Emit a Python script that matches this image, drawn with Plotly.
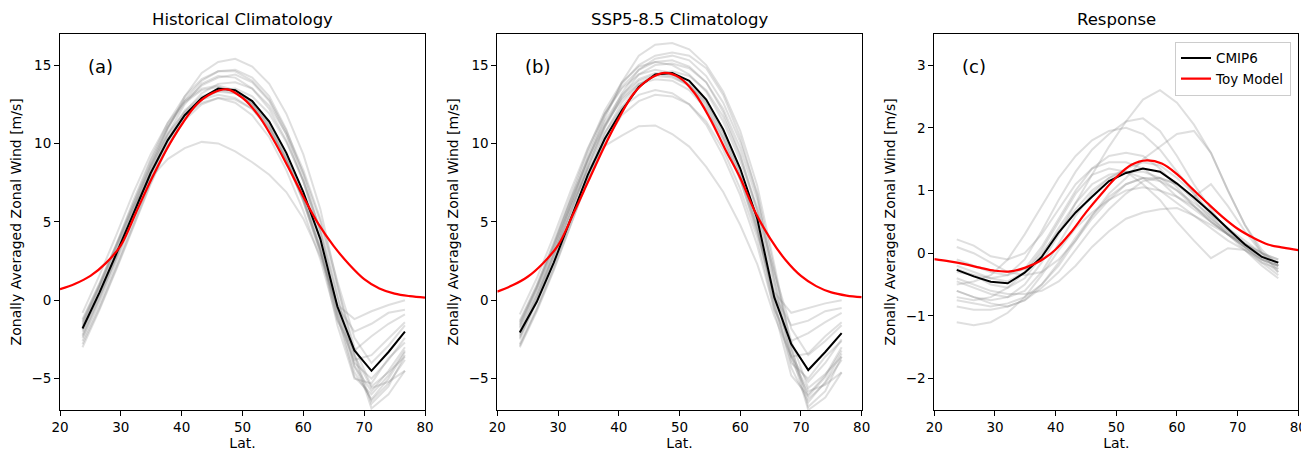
import plotly.graph_objects as go
from plotly.subplots import make_subplots

# T42 grid latitudes used by the CMIP6 curves
lat = [23.7, 26.5, 29.3, 32.1, 34.9, 37.7, 40.5, 43.3, 46.0, 48.8,
       51.6, 54.4, 57.2, 60.0, 62.8, 65.6, 68.4, 71.2, 74.0, 76.7]

# latitudes where the toy model curve was read
toy_lat = [20, 22.5, 25, 27.5, 30, 32.5, 35, 37.5, 40, 42.5, 45, 47.5, 50,
           52.5, 55, 57.5, 60, 62.5, 65, 67.5, 70, 72.5, 75, 77.5, 80]

hist_cmip6 = [-1.8, 0.5, 3.0, 5.6, 8.1, 10.2, 11.8, 12.9, 13.5, 13.4,
              12.7, 11.4, 9.4, 6.9, 3.9, -0.4, -3.2, -4.5, -3.3, -2.0]
ssp_cmip6 = [-2.06, -0.1, 2.4, 5.2, 8.0, 10.3, 12.1, 13.6, 14.4, 14.5,
             14.0, 12.8, 10.9, 8.4, 5.2, 0.2, -2.8, -4.45, -3.3, -2.1]
resp_cmip6 = [-0.265, -0.37, -0.455, -0.48, -0.31, -0.06, 0.33, 0.65, 0.9, 1.15,
              1.28, 1.35, 1.3, 1.11, 0.89, 0.65, 0.39, 0.14, -0.06, -0.15]

hist_toy = [0.70, 1.05, 1.55, 2.35, 3.5, 5.6, 7.7, 9.6, 11.2, 12.5, 13.2, 13.45, 12.9,
            11.85, 10.3, 8.5, 6.6, 4.85, 3.45, 2.3, 1.35, 0.75, 0.42, 0.26, 0.17]
ssp_toy = [0.55, 0.95, 1.5, 2.35, 3.5, 5.5, 7.6, 9.7, 11.6, 13.2, 14.1, 14.5, 14.2,
           13.2, 11.6, 9.65, 7.8, 5.6, 3.9, 2.55, 1.55, 0.9, 0.5, 0.3, 0.2]
resp_toy = [-0.095, -0.13, -0.175, -0.23, -0.28, -0.29, -0.23, -0.12, 0.06, 0.33, 0.65,
            0.94, 1.21, 1.41, 1.48, 1.43, 1.26, 1.03, 0.80, 0.58, 0.39, 0.25, 0.14, 0.09, 0.05]

hist_models = [
    [-2.3, 0.1, 2.8, 5.6, 8.4, 10.9, 13.0, 14.5, 15.2, 15.4, 14.9, 13.8, 11.9, 9.3, 5.8, 1.0, -3.4, -6.6, -5.5, -3.5],
    [-2.0, 0.4, 3.0, 5.8, 8.6, 11.0, 12.8, 14.0, 14.6, 14.7, 14.2, 13.0, 10.9, 8.0, 4.3, -0.5, -4.2, -5.8, -4.5, -3.0],
    [-1.5, 0.9, 3.5, 6.2, 8.9, 11.1, 12.7, 13.7, 14.2, 14.4, 13.9, 12.7, 10.6, 7.6, 3.8, -0.8, -4.0, -5.0, -3.8, -2.4],
    [-2.6, -0.3, 2.3, 5.0, 7.7, 10.0, 11.8, 12.9, 13.3, 13.2, 12.6, 11.3, 9.3, 6.7, 3.4, -0.9, -4.6, -6.3, -5.0, -3.3],
    [-1.2, 1.1, 3.6, 6.2, 8.6, 10.6, 12.0, 12.8, 13.1, 12.9, 12.2, 10.9, 8.9, 6.3, 3.1, -0.4, -2.0, -1.5, -0.8, -0.6],
    [-0.8, 1.6, 4.2, 6.9, 9.3, 11.3, 12.7, 13.5, 13.7, 13.4, 12.5, 11.0, 8.9, 6.3, 3.0, -0.3, -1.2, -0.7, -0.3, 0.0],
    [-3.0, -0.6, 2.0, 4.7, 7.4, 9.8, 11.6, 12.8, 13.4, 13.5, 13.0, 11.9, 10.1, 7.6, 4.5, 0.3, -3.6, -6.9, -6.0, -4.5],
    [-1.7, 0.7, 3.2, 5.9, 8.4, 10.5, 12.1, 13.0, 13.4, 13.2, 12.5, 11.2, 9.1, 6.5, 3.2, -1.2, -3.8, -3.5, -2.4, -1.4],
    [-1.3, 1.0, 3.5, 6.0, 7.8, 9.0, 9.7, 10.1, 10.0, 9.5, 8.8, 8.0, 6.9, 5.2, 2.8, -0.5, -3.5, -5.6, -5.2, -4.5],
    [-2.2, 0.2, 2.7, 5.3, 7.9, 10.2, 12.0, 13.2, 13.8, 13.9, 13.5, 12.4, 10.6, 8.1, 5.0, 0.8, -3.0, -5.5, -4.6, -3.6],
    [-1.4, 1.0, 3.6, 6.4, 9.0, 11.3, 13.0, 14.1, 14.6, 14.6, 14.0, 12.8, 10.8, 8.3, 5.2, 1.2, -2.4, -4.0, -2.9, -1.6],
    [-2.8, -0.5, 2.1, 4.8, 7.5, 9.8, 11.5, 12.5, 12.9, 12.8, 12.2, 11.0, 9.0, 6.5, 3.3, -1.0, -4.9, -6.0, -4.8, -3.2],
    [-1.9, 0.4, 2.9, 5.5, 8.1, 10.3, 11.8, 12.6, 12.9, 12.6, 11.8, 10.4, 8.3, 5.7, 2.6, -1.3, -3.2, -2.3, -1.5, -0.9],
    [-2.4, 0.0, 2.6, 5.4, 8.2, 10.6, 12.5, 13.8, 14.3, 14.2, 13.5, 12.2, 10.2, 7.6, 4.4, 0.2, -4.2, -6.4, -5.3, -3.8],
    [-1.6, 0.8, 3.3, 6.0, 8.7, 11.0, 12.6, 13.4, 13.6, 13.3, 12.5, 11.1, 9.0, 6.4, 3.2, -1.6, -5.0, -5.3, -3.7, -2.7],
]

ssp_models = [
    [-2.4, 0.0, 2.9, 5.9, 8.9, 11.6, 13.9, 15.6, 16.3, 16.4, 16.0, 15.0, 13.3, 10.8, 7.3, 2.3, -2.9, -6.8, -5.8, -3.6],
    [-2.2, 0.3, 3.1, 6.1, 9.1, 11.8, 13.8, 15.0, 15.6, 15.8, 15.6, 14.8, 13.1, 10.4, 6.7, 1.2, -3.8, -6.0, -4.8, -3.0],
    [-1.6, 0.8, 3.5, 6.5, 9.4, 11.9, 13.6, 14.7, 15.2, 15.3, 14.9, 13.9, 12.0, 9.3, 5.6, 0.6, -3.6, -5.2, -4.0, -2.5],
    [-2.8, -0.5, 2.2, 5.1, 8.0, 10.6, 12.6, 13.8, 14.3, 14.2, 13.7, 12.6, 10.7, 8.1, 4.8, 0.0, -4.3, -6.5, -5.2, -3.4],
    [-1.3, 1.0, 3.6, 6.4, 9.0, 11.2, 12.8, 13.8, 14.1, 14.0, 13.4, 12.2, 10.3, 7.7, 4.4, 0.3, -1.6, -1.3, -0.7, -0.5],
    [-0.9, 1.4, 4.1, 7.0, 9.7, 11.9, 13.5, 14.4, 14.7, 14.5, 13.7, 12.3, 10.3, 7.7, 4.3, 0.5, -0.8, -0.5, -0.2, 0.0],
    [-3.0, -0.7, 1.9, 4.8, 7.7, 10.3, 12.3, 13.7, 14.4, 14.6, 14.3, 13.4, 11.7, 9.2, 5.9, 1.2, -3.3, -7.0, -6.2, -4.6],
    [-1.8, 0.5, 3.1, 6.1, 8.8, 11.1, 12.9, 14.0, 14.4, 14.3, 13.7, 12.5, 10.5, 7.9, 4.6, -0.4, -3.6, -3.4, -2.3, -1.4],
    [-1.4, 0.8, 3.4, 6.0, 8.3, 9.85, 10.5, 11.1, 11.15, 10.6, 9.8, 8.5, 6.9, 4.8, 2.3, -1.0, -3.6, -5.8, -5.4, -4.6],
    [-2.3, 0.1, 2.8, 5.6, 8.5, 11.0, 13.0, 14.4, 15.0, 15.1, 14.8, 13.9, 12.2, 9.7, 6.4, 1.6, -2.6, -5.6, -4.7, -3.6],
    [-1.5, 0.9, 3.7, 6.7, 9.6, 12.1, 13.9, 14.9, 15.2, 15.0, 14.4, 13.3, 11.4, 8.9, 5.8, 1.8, -1.8, -3.5, -2.6, -1.6],
    [-2.9, -0.6, 2.0, 4.9, 7.7, 10.1, 11.8, 12.7, 13.1, 13.0, 12.5, 11.4, 9.6, 7.1, 4.0, -0.6, -4.8, -6.1, -4.9, -3.2],
    [-2.0, 0.3, 2.9, 5.7, 8.4, 10.7, 12.3, 13.1, 13.4, 13.2, 12.5, 11.2, 9.2, 6.7, 3.5, -0.6, -2.6, -2.1, -1.4, -0.8],
    [-2.5, -0.1, 2.6, 5.5, 8.5, 11.1, 13.2, 14.7, 15.4, 15.6, 15.3, 14.3, 12.6, 10.1, 6.8, 2.0, -3.1, -6.3, -5.3, -3.8],
    [-1.7, 0.7, 3.4, 6.3, 9.0, 11.4, 13.1, 14.1, 14.5, 14.4, 13.8, 12.7, 10.8, 8.1, 4.7, -0.2, -4.0, -5.0, -3.6, -2.6],
]

resp_models = [
    [-0.6, -0.7, -0.75, -0.7, -0.5, -0.15, 0.3, 0.8, 1.25, 1.7, 2.1, 2.45, 2.6, 2.4, 2.05, 1.6, 1.0, 0.45, 0.0, -0.2],
    [-0.3, -0.35, -0.4, -0.35, -0.1, 0.35, 0.85, 1.3, 1.65, 1.9, 2.1, 2.15, 1.95, 1.55, 1.1, 0.7, 0.35, 0.1, -0.1, -0.2],
    [-0.5, -0.45, -0.35, -0.1, 0.3, 0.75, 1.2, 1.55, 1.8, 1.95, 2.0, 1.9, 1.65, 1.3, 0.95, 0.6, 0.3, 0.05, -0.15, -0.25],
    [-0.75, -0.8, -0.85, -0.8, -0.7, -0.5, -0.2, 0.2, 0.6, 0.95, 1.2, 1.5, 1.7, 1.9, 1.95, 1.6, 1.0, 0.45, 0.05, -0.2],
    [-1.1, -1.15, -1.1, -0.95, -0.7, -0.35, 0.05, 0.4, 0.65, 0.85, 1.0, 1.05, 1.0, 0.9, 0.75, 0.55, 0.35, 0.15, -0.05, -0.15],
    [0.22, 0.12, -0.05, -0.1, 0.0, 0.3, 0.7, 1.1, 1.35, 1.45, 1.45, 1.35, 1.15, 0.9, 0.7, 0.5, 0.3, 0.1, -0.1, -0.2],
    [-0.4, -0.5, -0.6, -0.65, -0.65, -0.6, -0.45, -0.2, 0.1, 0.35, 0.55, 0.65, 0.7, 0.72, 0.6, 0.45, 0.3, 0.15, 0.0, -0.1],
    [-0.2, -0.3, -0.4, -0.45, -0.3, 0.05, 0.5, 0.95, 1.25, 1.35, 1.3, 1.1, 0.85, 0.5, 0.2, -0.08, 0.08, 0.05, -0.1, -0.2],
    [-0.6, -0.7, -0.8, -0.85, -0.75, -0.5, -0.15, 0.25, 0.6, 0.9, 1.1, 1.2, 1.2, 1.1, 0.9, 1.1, 0.75, 0.35, 0.0, -0.3],
    [-0.1, -0.2, -0.3, -0.35, -0.25, 0.1, 0.55, 1.0, 1.35, 1.55, 1.6, 1.55, 1.35, 1.05, 0.75, 0.5, 0.3, 0.15, 0.0, -0.1],
    [-0.85, -0.9, -0.9, -0.85, -0.75, -0.55, -0.3, 0.05, 0.4, 0.7, 0.95, 1.15, 1.2, 1.1, 0.85, 0.55, 0.3, 0.1, -0.15, -0.35],
    [-0.25, -0.35, -0.5, -0.55, -0.4, -0.05, 0.4, 0.8, 1.1, 1.25, 1.3, 1.2, 1.0, 0.8, 0.6, 0.4, 0.2, 0.05, -0.2, -0.4],
    [-0.45, -0.55, -0.65, -0.7, -0.6, -0.3, 0.15, 0.6, 0.95, 1.2, 1.35, 1.45, 1.4, 1.2, 0.95, 0.65, 0.4, 0.15, -0.05, -0.25],
    [0.1, 0.0, -0.15, -0.3, -0.35, -0.3, -0.1, 0.2, 0.55, 0.85, 1.1, 1.2, 1.15, 1.0, 0.8, 0.6, 0.4, 0.2, 0.0, -0.15],
    [-0.7, -0.75, -0.7, -0.55, -0.3, 0.0, 0.35, 0.7, 1.0, 1.2, 1.3, 1.3, 1.2, 1.0, 0.75, 0.5, 0.3, 0.1, -0.1, -0.3],
]

titles = ["Historical Climatology", "SSP5-8.5 Climatology", "Response"]
panel_labels = ["(a)", "(b)", "(c)"]

FONT = "DejaVu Sans"

fig = make_subplots(rows=1, cols=3, subplot_titles=titles)

panels = [
    (hist_models, hist_cmip6, hist_toy),
    (ssp_models, ssp_cmip6, ssp_toy),
    (resp_models, resp_cmip6, resp_toy),
]

for i, (models, cmip, toy) in enumerate(panels):
    col = i + 1
    for m in models:
        fig.add_trace(go.Scatter(x=lat, y=m, mode="lines",
                                 line=dict(color="rgba(128,128,128,0.25)", width=2),
                                 showlegend=False, hoverinfo="skip"), row=1, col=col)
    fig.add_trace(go.Scatter(x=lat, y=cmip, mode="lines", name="CMIP6",
                             line=dict(color="black", width=2),
                             showlegend=(col == 3)), row=1, col=col)
    fig.add_trace(go.Scatter(x=toy_lat, y=toy, mode="lines", name="Toy Model",
                             line=dict(color="red", width=2.2, shape="spline", smoothing=1.0),
                             showlegend=(col == 3)), row=1, col=col)

# the page body adds an 8px margin, so the figure is drawn 8px smaller
OFF = 8
W, H = 1309 - OFF, 452 - OFF
x_domains = [((60 - OFF) / W, (425 - OFF) / W),
             ((497.3 - OFF) / W, (861.7 - OFF) / W),
             ((934.3 - OFF) / W, (1298.3 - OFF) / W)]
y_domain = (1 - (410 - OFF) / H, 1 - (33.7 - OFF) / H)

axis_style = dict(showline=True, linecolor="black", linewidth=1, mirror=True,
                  ticks="outside", ticklen=5, tickwidth=1, tickcolor="black",
                  showgrid=False, zeroline=False, automargin=False,
                  tickfont=dict(family=FONT, size=13.5, color="black"))

for i in range(3):
    xa = "xaxis" if i == 0 else "xaxis%d" % (i + 1)
    ya = "yaxis" if i == 0 else "yaxis%d" % (i + 1)
    fig.layout[xa].update(domain=x_domains[i], range=[20, 80], tickvals=[20, 30, 40, 50, 60, 70, 80],
                          title=dict(text="Lat.", font=dict(family=FONT, size=14, color="black"), standoff=2),
                          **axis_style)
    if i < 2:
        yr, yt = [-7, 17], [-5, 0, 5, 10, 15]
    else:
        yr, yt = [-2.5, 3.5], [-2, -1, 0, 1, 2, 3]
    fig.layout[ya].update(domain=y_domain, range=yr, tickvals=yt,
                          title=dict(text="Zonally Averaged Zonal Wind [m/s]",
                                     font=dict(family=FONT, size=14, color="black"), standoff=6),
                          **axis_style)
    fig.add_annotation(text=panel_labels[i], xref="x%s domain" % ("" if i == 0 else i + 1),
                       yref="y%s domain" % ("" if i == 0 else i + 1),
                       x=0.07, y=0.914, xanchor="left", yanchor="middle", showarrow=False,
                       font=dict(family=FONT, size=18, color="black"))

for ann, (x0, x1) in zip(fig.layout.annotations[:3], x_domains):
    ann.update(x=(x0 + x1) / 2, y=y_domain[1], yanchor="bottom", yshift=3,
               font=dict(family=FONT, size=16.5, color="black"))

fig.update_layout(
    width=W, height=H,
    margin=dict(l=0, r=0, t=0, b=0, autoexpand=False),
    paper_bgcolor="white", plot_bgcolor="white",
    font=dict(family=FONT, color="black"),
    legend=dict(x=(1291 - OFF) / W, y=1 - (41.7 - OFF) / H, xanchor="right", yanchor="top",
                bgcolor="rgba(255,255,255,0.8)", bordercolor="#cccccc", borderwidth=1,
                font=dict(family=FONT, size=13.5, color="black"),
                itemwidth=30, tracegroupgap=0),
)

fig.write_html("out.html")
